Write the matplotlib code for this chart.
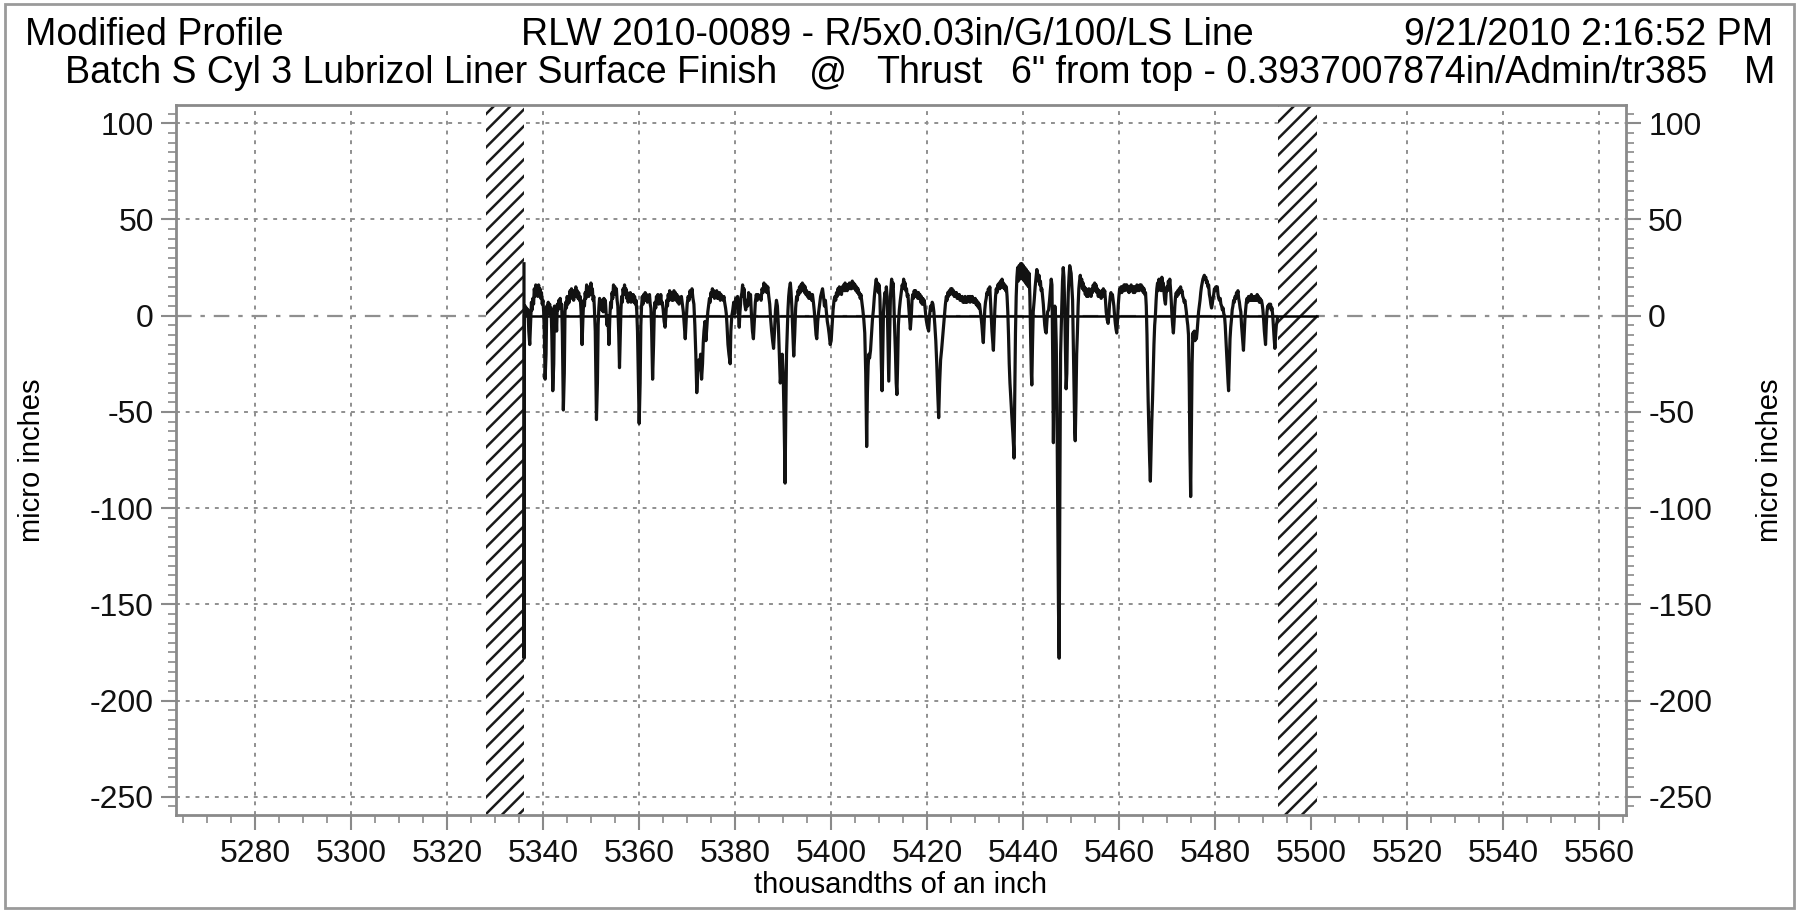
import matplotlib
matplotlib.use("Agg")
import matplotlib.pyplot as plt
from matplotlib.patches import Rectangle
from matplotlib.ticker import MultipleLocator

plt.rcParams['font.family'] = ['Liberation Sans', 'DejaVu Sans']
plt.rcParams['axes.unicode_minus'] = False
plt.rcParams['hatch.linewidth'] = 1.8

# ---- data: (position, height) ----
profile_points = [
    (5336.0, 27), (5336.02, -178), (5336.1, 0), (5336.25, 5), (5336.4, 1), (5336.55, 4),
    (5336.7, 0), (5336.85, 3), (5337.0, -8), (5337.2, -15), (5337.4, -2), (5337.55, 7),
    (5337.7, 3), (5337.85, 9), (5338.0, 6), (5338.15, 14), (5338.3, 10), (5338.45, 16),
    (5338.6, 11), (5338.75, 15), (5338.9, 10), (5339.05, 16), (5339.2, 11), (5339.35, 14),
    (5339.5, 9), (5339.65, 12), (5339.8, 6), (5339.95, 8), (5340.1, 2), (5340.25, -10),
    (5340.4, -33), (5340.6, -20), (5340.75, 5), (5340.9, 1), (5341.05, 7), (5341.2, 3),
    (5341.35, 6), (5341.5, 0), (5341.65, 4), (5341.8, -10), (5342.0, -39), (5342.2, -25),
    (5342.35, 5), (5342.5, 1), (5342.65, 3), (5342.8, -8), (5342.95, 6), (5343.1, 3),
    (5343.25, 8), (5343.4, 5), (5343.55, 9), (5343.7, 4), (5343.85, 6), (5344.0, -10),
    (5344.2, -49), (5344.4, -30), (5344.55, 2), (5344.7, 7), (5344.85, 4), (5345.0, 10),
    (5345.15, 6), (5345.3, 9), (5345.45, 7), (5345.6, 13), (5345.75, 9), (5345.9, 14),
    (5346.05, 10), (5346.2, 13), (5346.35, 8), (5346.5, 12), (5346.65, 10), (5346.8, 15),
    (5346.95, 10), (5347.1, 13), (5347.25, 9), (5347.4, 12), (5347.55, 8), (5347.7, 10),
    (5347.9, 2), (5348.1, -15), (5348.3, 0), (5348.45, 8), (5348.6, 5), (5348.75, 12),
    (5348.9, 9), (5349.05, 16), (5349.2, 11), (5349.35, 14), (5349.5, 10), (5349.65, 15),
    (5349.8, 12), (5349.95, 17), (5350.1, 11), (5350.25, 14), (5350.4, 8), (5350.55, 10),
    (5350.7, 2), (5350.85, -8), (5351.1, -54), (5351.3, -35), (5351.45, -5), (5351.6, 4),
    (5351.75, 9), (5351.9, 5), (5352.05, 8), (5352.2, 3), (5352.35, 7), (5352.5, 2),
    (5352.65, 9), (5352.8, 5), (5352.95, 8), (5353.1, 2), (5353.3, -5), (5353.5, 0),
    (5353.7, -15), (5353.9, 0), (5354.05, 7), (5354.2, 4), (5354.35, 12), (5354.5, 9),
    (5354.65, 16), (5354.8, 12), (5354.95, 15), (5355.1, 11), (5355.25, 14), (5355.4, 8),
    (5355.55, 5), (5355.75, -10), (5355.9, -27), (5356.05, -12), (5356.2, 3), (5356.35, 10),
    (5356.5, 7), (5356.65, 14), (5356.8, 11), (5356.95, 16), (5357.1, 11), (5357.25, 14),
    (5357.4, 9), (5357.55, 12), (5357.7, 7), (5357.85, 10), (5358.0, 8), (5358.15, 12),
    (5358.3, 7), (5358.45, 11), (5358.6, 8), (5358.75, 11), (5358.9, 7), (5359.05, 10),
    (5359.2, 6), (5359.35, 8), (5359.5, 2), (5359.65, -8), (5359.8, -30), (5360.0, -56),
    (5360.2, -35), (5360.35, -5), (5360.5, 5), (5360.65, 10), (5360.8, 6), (5360.95, 11),
    (5361.1, 8), (5361.25, 12), (5361.4, 8), (5361.55, 11), (5361.7, 7), (5361.85, 10),
    (5362.0, 8), (5362.15, 11), (5362.3, 6), (5362.45, 4), (5362.6, -8), (5362.8, -33),
    (5363.0, -15), (5363.15, 2), (5363.3, 7), (5363.45, 4), (5363.6, 10), (5363.75, 7),
    (5363.9, 11), (5364.05, 6), (5364.2, 10), (5364.35, 7), (5364.5, 11), (5364.65, 6),
    (5364.8, 7), (5365.0, 3), (5365.2, -3), (5365.4, -6), (5365.6, 2), (5365.75, 8),
    (5365.9, 5), (5366.05, 11), (5366.2, 8), (5366.35, 13), (5366.5, 9), (5366.65, 12),
    (5366.8, 8), (5366.95, 11), (5367.1, 8), (5367.25, 13), (5367.4, 9), (5367.55, 12),
    (5367.7, 8), (5367.85, 11), (5368.0, 7), (5368.15, 10), (5368.3, 6), (5368.45, 9),
    (5368.6, 8), (5368.8, 10), (5369.0, 6), (5369.2, 2), (5369.4, -5), (5369.6, -12),
    (5369.8, -2), (5370.0, 6), (5370.2, 10), (5370.4, 8), (5370.6, 13), (5370.8, 10),
    (5371.0, 14), (5371.2, 9), (5371.4, 6), (5371.6, -5), (5371.8, -20), (5372.0, -40),
    (5372.2, -30), (5372.4, -23), (5372.6, -28), (5372.8, -20), (5373.0, -33), (5373.2, -25),
    (5373.35, -14), (5373.5, -8), (5373.7, -3), (5373.9, -13), (5374.1, -6), (5374.3, 2),
    (5374.5, 6), (5374.65, 9), (5374.8, 7), (5374.95, 12), (5375.1, 10), (5375.25, 14),
    (5375.4, 11), (5375.55, 13), (5375.7, 9), (5375.85, 12), (5376.0, 10), (5376.15, 13),
    (5376.3, 9), (5376.45, 11), (5376.6, 9), (5376.75, 12), (5376.9, 8), (5377.05, 11),
    (5377.2, 9), (5377.35, 10), (5377.5, 8), (5377.65, 10), (5377.8, 7), (5378.0, 4),
    (5378.15, 1), (5378.3, -5), (5378.5, -15), (5378.7, -20), (5378.96, -25), (5379.1, -8),
    (5379.3, 0), (5379.5, 3), (5379.7, 7), (5379.9, 1), (5380.1, 9), (5380.3, 5),
    (5380.5, 10), (5380.7, 0), (5380.85, -6), (5381.0, 2), (5381.2, 9), (5381.4, 12),
    (5381.55, 16), (5381.7, 10), (5381.85, 14), (5382.0, 6), (5382.2, 3), (5382.4, 8),
    (5382.6, 5), (5382.8, 12), (5383.0, 9), (5383.2, 11), (5383.4, 0), (5383.6, -8),
    (5383.8, -12), (5384.0, -2), (5384.2, 7), (5384.4, 11), (5384.6, 8), (5384.8, 11),
    (5385.0, 9), (5385.2, 10), (5385.4, 8), (5385.6, 14), (5385.8, 12), (5386.0, 17),
    (5386.2, 13), (5386.4, 16), (5386.6, 12), (5386.8, 15), (5387.0, 10), (5387.2, 6),
    (5387.4, -2), (5387.6, -8), (5387.8, -13), (5388.0, -17), (5388.2, -8), (5388.4, 3),
    (5388.6, 8), (5388.8, 5), (5389.0, -5), (5389.2, -20), (5389.4, -35), (5389.6, -28),
    (5389.8, -20), (5390.0, -30), (5390.2, -55), (5390.4, -87), (5390.55, -50), (5390.7, -20),
    (5390.85, -9), (5391.0, 3), (5391.15, 10), (5391.3, 14), (5391.5, 17), (5391.65, 12),
    (5391.8, 5), (5392.0, -8), (5392.2, -21), (5392.4, -10), (5392.6, 4), (5392.8, 10),
    (5392.95, 8), (5393.1, 13), (5393.25, 11), (5393.4, 15), (5393.55, 12), (5393.7, 16),
    (5393.85, 13), (5394.0, 17), (5394.15, 13), (5394.3, 16), (5394.45, 12), (5394.6, 15),
    (5394.75, 11), (5394.9, 13), (5395.05, 10), (5395.2, 12), (5395.35, 9), (5395.5, 12),
    (5395.65, 9), (5395.8, 11), (5395.95, 8), (5396.1, 11), (5396.3, 7), (5396.5, 2),
    (5396.7, -5), (5396.85, -10), (5397.0, -12), (5397.2, -3), (5397.4, 2), (5397.6, 6),
    (5397.8, 10), (5398.0, 12), (5398.2, 14), (5398.4, 10), (5398.6, 5), (5398.8, 8),
    (5399.0, 2), (5399.2, -3), (5399.4, -6), (5399.6, -10), (5399.8, -15), (5400.0, -13),
    (5400.2, -5), (5400.4, 3), (5400.6, 8), (5400.8, 10), (5400.95, 8), (5401.1, 12),
    (5401.25, 10), (5401.4, 14), (5401.55, 11), (5401.7, 15), (5401.85, 12), (5402.0, 14),
    (5402.15, 11), (5402.3, 15), (5402.45, 13), (5402.6, 16), (5402.75, 13), (5402.9, 17),
    (5403.05, 13), (5403.2, 16), (5403.35, 13), (5403.5, 16), (5403.65, 14), (5403.8, 17),
    (5403.95, 14), (5404.1, 16), (5404.25, 14), (5404.4, 18), (5404.55, 15), (5404.7, 17),
    (5404.85, 14), (5405.0, 16), (5405.15, 13), (5405.3, 15), (5405.45, 12), (5405.6, 14),
    (5405.75, 11), (5405.9, 12), (5406.05, 9), (5406.2, 11), (5406.4, 7), (5406.6, 3),
    (5406.8, -2), (5407.0, -9), (5407.2, -30), (5407.4, -68), (5407.55, -40), (5407.7, -26),
    (5407.85, -20), (5408.0, -22), (5408.2, -18), (5408.4, -10), (5408.6, -2), (5408.8, 3),
    (5409.0, 10), (5409.2, 15), (5409.4, 19), (5409.55, 13), (5409.7, 17), (5409.85, 12),
    (5410.0, 16), (5410.15, 10), (5410.3, -5), (5410.45, -25), (5410.6, -39), (5410.75, -20),
    (5410.9, 2), (5411.05, 8), (5411.2, 12), (5411.35, 9), (5411.5, 15), (5411.65, 10),
    (5411.8, -10), (5412.0, -34), (5412.2, -10), (5412.35, 10), (5412.5, 16), (5412.6, 19),
    (5412.75, 14), (5412.9, 17), (5413.05, 8), (5413.2, -5), (5413.4, -20), (5413.55, -35),
    (5413.7, -41), (5413.85, -25), (5414.0, -5), (5414.2, 3), (5414.4, 8), (5414.6, 12),
    (5414.8, 16), (5414.95, 14), (5415.1, 19), (5415.25, 15), (5415.4, 17), (5415.55, 13),
    (5415.7, 14), (5415.85, 10), (5416.0, 11), (5416.15, 5), (5416.3, 0), (5416.5, -7),
    (5416.7, 0), (5416.85, 8), (5417.0, 11), (5417.15, 9), (5417.3, 13), (5417.45, 10),
    (5417.6, 13), (5417.75, 10), (5417.9, 12), (5418.05, 9), (5418.2, 12), (5418.35, 9),
    (5418.5, 11), (5418.65, 7), (5418.8, 10), (5418.95, 6), (5419.1, 9), (5419.25, 6),
    (5419.4, 8), (5419.6, 3), (5419.8, -2), (5420.0, -5), (5420.3, -8), (5420.5, 0),
    (5420.7, 5), (5420.9, 3), (5421.05, 7), (5421.2, 6), (5421.4, 2), (5421.6, -5),
    (5421.8, -13), (5422.0, -25), (5422.2, -40), (5422.4, -53), (5422.6, -35), (5422.8, -23),
    (5423.0, -18), (5423.2, -12), (5423.4, -6), (5423.6, 0), (5423.8, 6), (5424.0, 10),
    (5424.15, 8), (5424.3, 12), (5424.45, 10), (5424.6, 13), (5424.75, 11), (5424.9, 14),
    (5425.05, 12), (5425.2, 14), (5425.35, 11), (5425.5, 13), (5425.65, 10), (5425.8, 12),
    (5425.95, 10), (5426.1, 12), (5426.25, 9), (5426.4, 11), (5426.55, 9), (5426.7, 11),
    (5426.85, 8), (5427.0, 10), (5427.15, 8), (5427.3, 10), (5427.45, 7), (5427.6, 9),
    (5427.75, 7), (5427.9, 10), (5428.05, 7), (5428.2, 9), (5428.35, 7), (5428.5, 10),
    (5428.65, 8), (5428.8, 10), (5428.95, 7), (5429.1, 10), (5429.25, 8), (5429.4, 10),
    (5429.55, 7), (5429.7, 9), (5429.85, 7), (5430.0, 9), (5430.15, 6), (5430.3, 8),
    (5430.45, 5), (5430.6, 7), (5430.75, 4), (5430.9, 6), (5431.05, 3), (5431.2, 0),
    (5431.4, -5), (5431.55, -10), (5431.7, -14), (5431.85, -5), (5432.0, 3), (5432.15, 7),
    (5432.3, 9), (5432.45, 12), (5432.6, 11), (5432.75, 14), (5432.9, 12), (5433.05, 15),
    (5433.2, 8), (5433.35, 0), (5433.5, -8), (5433.65, -13), (5433.8, -18), (5433.95, -8),
    (5434.1, 3), (5434.25, 10), (5434.4, 14), (5434.55, 12), (5434.7, 16), (5434.85, 14),
    (5435.0, 17), (5435.15, 14), (5435.3, 18), (5435.45, 15), (5435.6, 19), (5435.75, 15),
    (5435.9, 17), (5436.05, 14), (5436.2, 16), (5436.35, 13), (5436.5, 15), (5436.65, 10),
    (5436.8, 2), (5436.95, -10), (5437.1, -25), (5437.25, -35), (5437.4, -42), (5437.55, -48),
    (5437.7, -55), (5437.85, -61), (5438.0, -68), (5438.1, -74), (5438.25, -40), (5438.4, -9),
    (5438.55, 10), (5438.7, 20), (5438.85, 25), (5439.0, 18), (5439.15, 26), (5439.3, 19),
    (5439.45, 27), (5439.6, 20), (5439.75, 27), (5439.9, 19), (5440.05, 26), (5440.2, 18),
    (5440.35, 25), (5440.5, 17), (5440.65, 24), (5440.8, 16), (5440.95, 23), (5441.1, 15),
    (5441.25, 22), (5441.4, 10), (5441.55, -10), (5441.7, -30), (5441.8, -36), (5441.95, -15),
    (5442.1, 2), (5442.3, 8), (5442.5, 15), (5442.7, 20), (5442.85, 24), (5443.0, 22),
    (5443.15, 18), (5443.3, 21), (5443.45, 16), (5443.6, 18), (5443.75, 13), (5443.9, 14),
    (5444.05, 10), (5444.2, 6), (5444.35, 0), (5444.5, -5), (5444.65, -8), (5444.8, -9),
    (5444.95, -3), (5445.1, 2), (5445.3, 3), (5445.5, 8), (5445.7, 14), (5445.85, 19),
    (5446.0, 16), (5446.15, -20), (5446.3, -66), (5446.45, -30), (5446.6, 5), (5446.75, 0),
    (5446.9, -15), (5447.05, -50), (5447.2, -100), (5447.35, -150), (5447.5, -178), (5447.65, -90),
    (5447.8, -20), (5447.9, -9), (5448.05, 5), (5448.2, 18), (5448.35, 25), (5448.5, 20),
    (5448.65, 5), (5448.8, -15), (5448.95, -38), (5449.1, -30), (5449.25, -5), (5449.4, 12),
    (5449.55, 20), (5449.7, 26), (5449.85, 24), (5450.0, 22), (5450.15, 15), (5450.3, 8),
    (5450.45, -15), (5450.6, -40), (5450.75, -60), (5450.85, -65), (5451.0, -45), (5451.15, -20),
    (5451.3, -9), (5451.45, 5), (5451.6, 14), (5451.75, 18), (5451.9, 21), (5452.05, 17),
    (5452.2, 19), (5452.35, 14), (5452.5, 17), (5452.65, 13), (5452.8, 15), (5452.95, 11),
    (5453.1, 14), (5453.25, 10), (5453.4, 13), (5453.55, 10), (5453.7, 14), (5453.85, 11),
    (5454.0, 13), (5454.15, 10), (5454.3, 14), (5454.45, 12), (5454.6, 16), (5454.75, 13),
    (5454.9, 17), (5455.05, 13), (5455.2, 16), (5455.35, 12), (5455.5, 14), (5455.65, 10),
    (5455.8, 13), (5455.95, 10), (5456.1, 12), (5456.25, 9), (5456.4, 13), (5456.55, 10),
    (5456.7, 14), (5456.85, 11), (5457.0, 13), (5457.15, 8), (5457.3, 2), (5457.5, -2),
    (5457.7, -4), (5457.85, 0), (5458.0, 6), (5458.15, 10), (5458.3, 12), (5458.45, 9),
    (5458.6, 11), (5458.75, 8), (5458.9, 5), (5459.05, 0), (5459.2, -4), (5459.35, -7),
    (5459.5, -9), (5459.65, -3), (5459.8, 5), (5459.95, 10), (5460.1, 14), (5460.25, 12),
    (5460.4, 15), (5460.55, 12), (5460.7, 15), (5460.85, 13), (5461.0, 16), (5461.15, 13),
    (5461.3, 16), (5461.45, 14), (5461.6, 16), (5461.75, 13), (5461.9, 15), (5462.05, 12),
    (5462.2, 15), (5462.35, 13), (5462.5, 16), (5462.65, 13), (5462.8, 15), (5462.95, 12),
    (5463.1, 15), (5463.25, 12), (5463.4, 15), (5463.55, 13), (5463.7, 16), (5463.85, 13),
    (5464.0, 15), (5464.15, 13), (5464.3, 16), (5464.45, 14), (5464.6, 16), (5464.75, 13),
    (5464.9, 15), (5465.05, 12), (5465.2, 14), (5465.35, 11), (5465.5, 12), (5465.65, 5),
    (5465.8, -10), (5465.9, -26), (5466.05, -45), (5466.2, -60), (5466.35, -75), (5466.5, -86),
    (5466.65, -70), (5466.8, -55), (5466.95, -44), (5467.1, -30), (5467.25, -15), (5467.4, -5),
    (5467.55, 0), (5467.7, 8), (5467.85, 14), (5468.0, 17), (5468.15, 13), (5468.3, 19),
    (5468.45, 14), (5468.6, 18), (5468.75, 13), (5468.9, 20), (5469.05, 15), (5469.2, 17),
    (5469.35, 12), (5469.5, 8), (5469.65, 6), (5469.8, 12), (5469.95, 15), (5470.1, 13),
    (5470.25, 18), (5470.4, 15), (5470.55, 19), (5470.7, 14), (5470.85, 8), (5471.0, 0),
    (5471.15, -5), (5471.3, -9), (5471.45, -3), (5471.6, 5), (5471.75, 10), (5471.9, 12),
    (5472.05, 10), (5472.2, 13), (5472.35, 11), (5472.5, 14), (5472.65, 12), (5472.8, 15),
    (5472.95, 12), (5473.1, 13), (5473.25, 10), (5473.4, 9), (5473.55, 7), (5473.7, 8),
    (5473.85, 5), (5474.0, 2), (5474.15, -2), (5474.3, -5), (5474.45, -10), (5474.6, -35),
    (5474.75, -70), (5474.9, -94), (5475.05, -60), (5475.2, -25), (5475.35, -9), (5475.5, -12),
    (5475.65, -8), (5475.8, -13), (5475.95, -10), (5476.1, -12), (5476.25, -8), (5476.4, -3),
    (5476.55, 2), (5476.7, 5), (5476.85, 8), (5477.0, 12), (5477.15, 15), (5477.3, 17),
    (5477.45, 19), (5477.6, 20), (5477.75, 21), (5477.9, 19), (5478.05, 20), (5478.2, 17),
    (5478.35, 18), (5478.5, 15), (5478.65, 16), (5478.8, 11), (5478.95, 9), (5479.1, 6),
    (5479.25, 4), (5479.4, 6), (5479.55, 9), (5479.7, 11), (5479.85, 14), (5480.0, 13),
    (5480.15, 15), (5480.3, 14), (5480.45, 15), (5480.6, 11), (5480.75, 9), (5480.9, 8),
    (5481.05, 9), (5481.2, 6), (5481.35, 5), (5481.5, 3), (5481.65, 4), (5481.8, 1),
    (5481.95, 0), (5482.1, -5), (5482.25, -12), (5482.4, -20), (5482.55, -28), (5482.7, -35),
    (5482.8, -39), (5482.95, -25), (5483.1, -12), (5483.25, -6), (5483.4, -2), (5483.55, 3),
    (5483.7, 5), (5483.85, 8), (5484.0, 7), (5484.15, 10), (5484.3, 9), (5484.45, 12),
    (5484.6, 11), (5484.75, 13), (5484.9, 9), (5485.05, 7), (5485.2, 4), (5485.35, 2),
    (5485.5, -5), (5485.65, -10), (5485.8, -15), (5485.9, -18), (5486.05, -10), (5486.2, -2),
    (5486.35, 3), (5486.5, 7), (5486.65, 9), (5486.8, 7), (5486.95, 10), (5487.1, 8),
    (5487.25, 10), (5487.4, 8), (5487.55, 11), (5487.7, 8), (5487.85, 10), (5488.0, 8),
    (5488.15, 10), (5488.3, 8), (5488.45, 10), (5488.6, 8), (5488.75, 11), (5488.9, 8),
    (5489.05, 10), (5489.2, 7), (5489.35, 9), (5489.5, 7), (5489.65, 8), (5489.8, 6),
    (5489.95, 3), (5490.1, -2), (5490.25, -8), (5490.4, -12), (5490.5, -15), (5490.65, -5),
    (5490.8, 2), (5490.95, 5), (5491.1, 4), (5491.25, 6), (5491.4, 5), (5491.55, 6),
    (5491.7, 3), (5491.85, 4), (5492.0, 0), (5492.15, -6), (5492.3, -12), (5492.45, -17),
    (5492.6, -10), (5492.75, -5), (5492.9, -3), (5493.0, -1),
]
profile_x = [p[0] for p in profile_points]
profile_y = [p[1] for p in profile_points]

hatch_spans = [(5328.1, 5336.0), (5493.1, 5501.2)]
mean_line_x = [5336.0, 5501.2]
mean_line_y = [0, 0]

x_ticks = list(range(5280, 5561, 20))
y_ticks = [100, 50, 0, -50, -100, -150, -200, -250]

title_left = "Modified Profile"
title_mid = "RLW 2010-0089 - R/5x0.03in/G/100/LS Line"
title_right = "9/21/2010 2:16:52 PM"
sub_a = "Batch S Cyl 3 Lubrizol Liner Surface Finish"
sub_b = "@"
sub_c = "Thrust"
sub_d = "6\" from top - 0.3937007874in/Admin/tr385"
sub_e = "M"
x_label = "thousandths of an inch"
y_label = "micro inches"

# ---- figure ----
W, H = 1796, 910
fig = plt.figure(figsize=(W / 100, H / 100), dpi=100)
ax = fig.add_axes([176 / W, 1 - 815 / H, (1626 - 176) / W, (815 - 105) / H])

ax.set_xlim(5263.5, 5565.6)
ax.set_ylim(-259.5, 109.5)

gray = '#8a8a8a'
grid_c = '#8f8f8f'

# grid
for xv in x_ticks:
    ax.axvline(xv, color=grid_c, lw=1.4, ls=(0, (2, 3)), zorder=1)
for yv in y_ticks:
    if yv == 0:
        ax.axhline(yv, color=grid_c, lw=1.6, ls=(0, (7, 4, 2, 4)), zorder=1)
    else:
        ax.axhline(yv, color=grid_c, lw=1.4, ls=(0, (2, 3)), zorder=1)

# hatched exclusion zones
for (a, b) in hatch_spans:
    ax.axvspan(a, b, facecolor='white', edgecolor='#1a1a1a', hatch='//', lw=0, zorder=2)

# mean line and profile
ax.plot(mean_line_x, mean_line_y, color='black', lw=1.8, zorder=3)
ax.plot(profile_x, profile_y, color='#121212', lw=2.3, zorder=4)

# axes styling
for s in ax.spines.values():
    s.set_color(gray)
    s.set_linewidth(2)
ax.set_xticks(x_ticks)
ax.set_yticks(y_ticks)
ax.xaxis.set_minor_locator(MultipleLocator(5))
ax.yaxis.set_minor_locator(MultipleLocator(5))
ax.tick_params(which='major', length=11, width=1.5, color=gray, labelsize=23,
               labelcolor='#111111', direction='out')
ax.tick_params(which='minor', length=6, width=1.2, color=gray, direction='out')
ax.tick_params(axis='y', which='both', left=True, right=True, labelleft=True, labelright=True, pad=5)
ax.tick_params(axis='x', pad=6)

# texts
fs = 27
fig.text(25 / W, 1 - 35 / H, title_left, fontsize=fs, ha='left', va='center')
fig.text(521 / W, 1 - 35 / H, title_mid, fontsize=fs, ha='left', va='center')
fig.text(1773 / W, 1 - 35 / H, title_right, fontsize=fs, ha='right', va='center')
fig.text(65 / W, 1 - 73 / H, sub_a, fontsize=fs, ha='left', va='center')
fig.text(828 / W, 1 - 73 / H, sub_b, fontsize=fs, ha='center', va='center')
fig.text(876 / W, 1 - 73 / H, sub_c, fontsize=fs, ha='left', va='center')
fig.text(1707 / W, 1 - 73 / H, sub_d, fontsize=fs, ha='right', va='center')
fig.text(1775 / W, 1 - 73 / H, sub_e, fontsize=fs, ha='right', va='center')
fig.text(900 / W, 1 - 885 / H, x_label, fontsize=21, ha='center', va='center')
fig.text(32 / W, 1 - 460 / H, y_label, fontsize=21, ha='center', va='center', rotation=90)
fig.text(1770 / W, 1 - 460 / H, y_label, fontsize=21, ha='center', va='center', rotation=90)

# outer frame
fig.patches.append(Rectangle((5 / W, 1 - 908 / H), (1794 - 5) / W, (908 - 4) / H,
                             transform=fig.transFigure, fill=False,
                             edgecolor='#9a9a9a', lw=2))

fig.savefig('out.png', dpi=100, facecolor='white')
